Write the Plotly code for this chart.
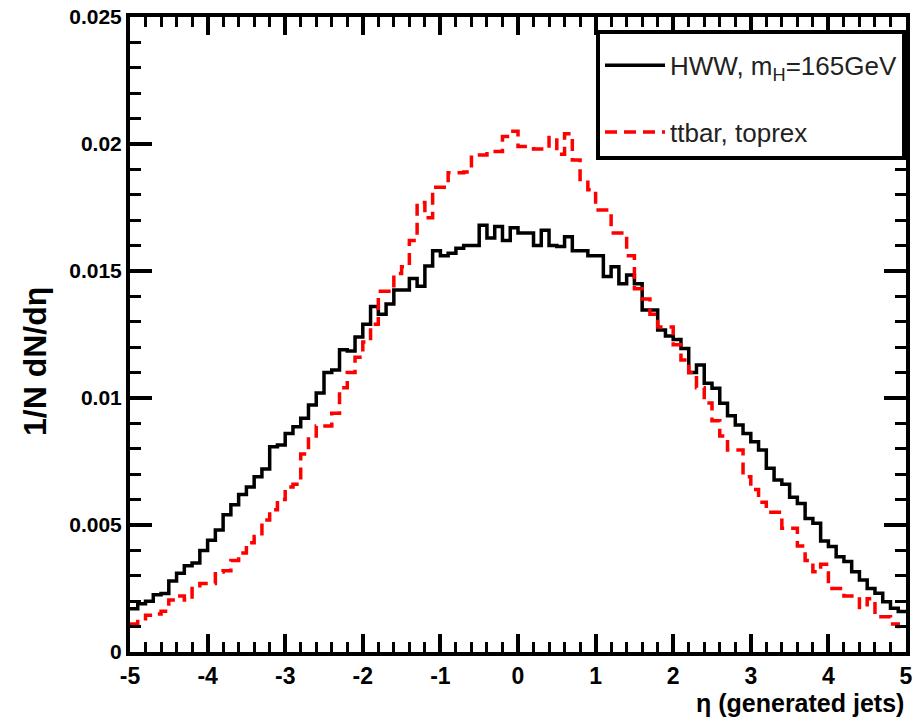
import numpy as np
import plotly.graph_objects as go

# ---------------- data (values in units of 1e-3) ----------------
eta_min, eta_max, n_bins = -5.0, 5.0, 100

hww = [1.7, 1.9, 2.0, 2.25, 2.3, 2.8, 3.1, 3.4, 3.5, 4.0,
       4.4, 4.8, 5.4, 5.8, 6.2, 6.5, 6.9, 7.2, 8.08, 8.15,
       8.6, 8.87, 9.2, 9.72, 10.2, 11.0, 11.1, 11.9, 11.85, 12.4,
       12.9, 13.6, 13.3, 13.7, 14.25, 14.25, 14.7, 14.4, 15.2, 15.8,
       15.6, 15.7, 15.9, 16.0, 16.0, 16.8, 16.3, 16.75, 16.2, 16.7,
       16.5, 16.5, 16.0, 16.6, 16.0, 15.96, 16.35, 15.8, 15.8, 15.6,
       15.6, 14.78, 15.17, 14.5, 14.84, 14.5, 13.46, 13.46, 12.68, 12.44,
       12.3, 11.95, 11.0, 11.3, 10.58, 10.38, 9.79, 9.3, 8.94, 8.6,
       8.28, 7.95, 7.23, 6.77, 6.6, 6.09, 5.85, 5.26, 5.07, 4.37,
       4.15, 3.75, 3.56, 3.16, 2.83, 2.5, 2.31, 1.98, 1.72, 1.59]

ttbar = [1.1, 1.2, 1.45, 1.5, 1.6, 2.05, 2.2, 2.05, 2.5, 2.7,
         2.7, 3.15, 3.2, 3.6, 3.9, 4.3, 4.55, 5.2, 5.6, 6.0,
         6.5, 6.6, 7.8, 8.5, 8.9, 8.9, 9.4, 10.4, 11.0, 11.6,
         12.2, 12.9, 14.2, 14.2, 14.9, 15.17, 16.2, 17.7, 17.1, 18.3,
         18.3, 18.87, 18.87, 18.9, 19.57, 19.57, 19.7, 19.7, 20.3, 20.5,
         19.9, 19.9, 19.8, 19.8, 20.26, 19.6, 20.4, 19.37, 18.6, 18.2,
         17.4, 17.4, 16.5, 16.5, 15.6, 14.3, 13.9, 13.3, 12.8, 12.8,
         12.1, 11.5, 11.0, 10.4, 9.8, 9.1, 8.5, 7.95, 7.95, 6.9,
         6.4, 5.9, 5.5, 5.5, 4.87, 4.87, 4.17, 3.6, 3.16, 3.45,
         2.5, 2.5, 2.2, 2.2, 1.75, 2.1, 1.39, 1.39, 1.1, 1.0]

x_tick_vals = [-5, -4, -3, -2, -1, 0, 1, 2, 3, 4, 5]
x_tick_text = ["-5", "-4", "-3", "-2", "-1", "0", "1", "2", "3", "4", "5"]
y_tick_vals = [0, 0.005, 0.01, 0.015, 0.02, 0.025]
y_tick_text = ["0", "0.005", "0.01", "0.015", "0.02", "0.025"]

name_hww = "HWW, m<sub>H</sub>=165GeV"
name_tt = "ttbar, toprex"
x_title = "η (generated jets)"
y_title = "1/N dN/dη"

# ---------------- figure ----------------
edges = np.linspace(eta_min, eta_max, n_bins + 1)


def steps(vals):
    v = np.asarray(vals) * 1e-3
    return np.append(v, v[-1])


FONT = "Liberation Sans"
W, H = 913, 719
L, R, T, B = 130, 7, 17, 67

fig = go.Figure()
fig.add_trace(go.Scatter(
    x=edges, y=steps(hww), mode="lines", line_shape="hv",
    line=dict(color="black", width=3.5), name=name_hww,
    legendgroup="a"))
fig.add_trace(go.Scatter(
    x=edges, y=steps(ttbar), mode="lines", line_shape="hv",
    line=dict(color="#ff0000", width=3.5, dash="12px,7px"), name=name_tt,
    legendgroup="b"))

axis_common = dict(
    showline=True, linewidth=4, linecolor="black", mirror="allticks",
    ticks="inside", tickcolor="black", tickwidth=3.5,
    showgrid=False, zeroline=False, ticklabeloverflow="allow",
)

fig.update_xaxes(
    range=[eta_min, eta_max], tickvals=x_tick_vals, ticktext=x_tick_text,
    ticklen=18,
    tickfont=dict(family=FONT, size=23, color="black", weight="bold"),
    minor=dict(dtick=0.2, ticks="inside", ticklen=10, tickwidth=3,
               tickcolor="black", showgrid=False),
    **axis_common)
fig.update_yaxes(
    range=[0, 0.025], tickvals=y_tick_vals, ticktext=y_tick_text,
    ticklen=22,
    tickfont=dict(family=FONT, size=21, color="black", weight="bold"),
    minor=dict(dtick=0.001, ticks="inside", ticklen=11, tickwidth=3,
               tickcolor="black", showgrid=False),
    **axis_common)

plot_h = H - T - B
fig.update_layout(
    width=W, height=H,
    margin=dict(l=L, r=R, t=T, b=B, autoexpand=False),
    paper_bgcolor="white", plot_bgcolor="white",
    showlegend=True,
    legend=dict(
        x=1.0, xanchor="right", y=1 - 13 / plot_h, yanchor="top",
        bgcolor="white", bordercolor="black", borderwidth=4,
        font=dict(family=FONT, size=26, color="#222222"),
        title=dict(text=" ", font=dict(size=6)),
        traceorder="grouped", tracegroupgap=30, itemwidth=60,
    ),
    annotations=[
        dict(text=x_title, xref="paper", yref="paper", x=1.0, y=-51 / plot_h,
             xanchor="right", yanchor="middle", showarrow=False,
             font=dict(family=FONT, size=25, color="black", weight="bold")),
        dict(text=y_title, xref="paper", yref="paper", x=-95 / (W - L - R),
             y=1 - (362 - T) / plot_h, xanchor="center", yanchor="middle",
             textangle=-90, showarrow=False,
             font=dict(family=FONT, size=32, color="black", weight="bold")),
    ],
)

fig.write_html("out.html")
